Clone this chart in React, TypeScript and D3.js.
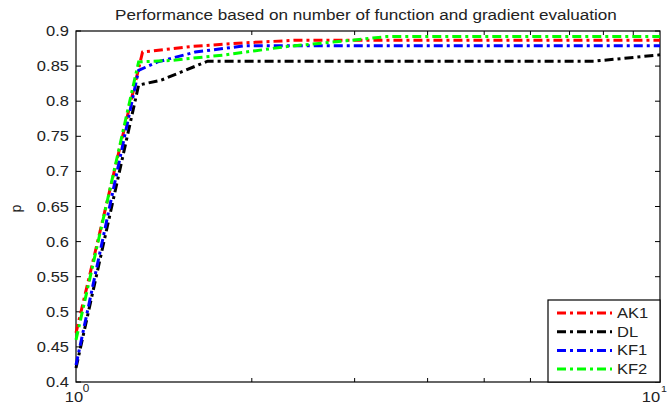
import React from 'react';
import * as d3 from 'd3';

// performance profile curves (x = tau, log scale)
const AK1_X = [1, 1.3, 1.58, 1.93, 2.4, 10];
const AK1_Y = [0.47, 0.87, 0.878, 0.883, 0.887, 0.887];
const DL_X = [1, 1.28, 1.4, 1.68, 7.7, 10];
const DL_Y = [0.42, 0.823, 0.83, 0.857, 0.857, 0.866];
const KF1_X = [1, 1.28, 1.38, 1.6, 1.95, 10];
const KF1_Y = [0.424, 0.844, 0.856, 0.87, 0.879, 0.879];
const KF2_X = [1, 1.28, 1.45, 1.8, 2.3, 2.9, 3.4, 10];
const KF2_Y = [0.46, 0.856, 0.858, 0.866, 0.878, 0.886, 0.892, 0.892];

const SERIES = [
  { name: 'AK1', color: '#ff0000', xs: AK1_X, ys: AK1_Y },
  { name: 'DL', color: '#000000', xs: DL_X, ys: DL_Y },
  { name: 'KF1', color: '#0000ff', xs: KF1_X, ys: KF1_Y },
  { name: 'KF2', color: '#00ff00', xs: KF2_X, ys: KF2_Y }
];

const Y_TICKS = [0.4, 0.45, 0.5, 0.55, 0.6, 0.65, 0.7, 0.75, 0.8, 0.85, 0.9];
const X_MINOR = [2, 3, 4, 5, 6, 7, 8, 9];
const TITLE = 'Performance based on number of function and gradient evaluation';

const W = 668, H = 407;
const margin = { top: 31, right: 8, bottom: 25, left: 76 };
const FONT = '"Liberation Sans", Arial, sans-serif';
const SX = 1.18; // the picture is stretched sideways

const Txt = ({ x, y, anchor, size, children }: any) => (
  <text transform={`translate(${x},${y}) scale(${SX},1)`} textAnchor={anchor}
    fontSize={size} fontFamily={FONT} fill='#222'>{children}</text>
);

export default function App () {
  const x = d3.scaleLog().domain([1, 10]).range([margin.left, W - margin.right]);
  const y = d3.scaleLinear().domain([0.4, 0.9]).range([H - margin.bottom, margin.top]);
  const line = d3.line<[number, number]>().x(d => x(d[0])).y(d => y(d[1]));
  const x0 = x(1), x1 = x(10), y0 = y(0.4), y1 = y(0.9);
  const dash = '9,4,3,4';

  const lx = 548, ly = 300, lw = x1 - 548, lh = y0 - 300;

  return (
    <svg width={W} height={H} style={{ position: 'absolute', left: 0, top: 0, background: '#fff' }}>
      <rect width={W} height={H} fill='#fff' />
      {/* title */}
      <Txt x={366} y={20} anchor='middle' size={14.5}>{TITLE}</Txt>

      {/* axes box */}
      <rect x={x0} y={y1} width={x1 - x0} height={y0 - y1} fill='none' stroke='#000' strokeWidth={1.2} />
      {Y_TICKS.map(t => (
        <g key={t}>
          <line x1={x0} x2={x0 + 5} y1={y(t)} y2={y(t)} stroke='#000' />
          <line x1={x1} x2={x1 - 5} y1={y(t)} y2={y(t)} stroke='#000' />
          <Txt x={69} y={y(t) + 5} anchor='end' size={14}>{String(t)}</Txt>
        </g>
      ))}
      {X_MINOR.map(t => (
        <g key={t}>
          <line x1={x(t)} x2={x(t)} y1={y0} y2={y0 - 4} stroke='#000' />
          <line x1={x(t)} x2={x(t)} y1={y1} y2={y1 + 4} stroke='#000' />
        </g>
      ))}
      <Txt x={x0 - 2} y={402} anchor='middle' size={14}>10</Txt>
      <Txt x={x0 + 10} y={392} anchor='middle' size={10}>0</Txt>
      <Txt x={x1 - 9} y={402} anchor='middle' size={14}>10</Txt>
      <Txt x={x1 + 1} y={392} anchor='start' size={9}>1</Txt>

      {/* y label */}
      <text transform={`translate(21,${y(0.65) + 2}) rotate(-90)`} textAnchor='middle'
        fontSize={14} fontFamily={FONT} fill='#222'>p</text>

      {/* curves */}
      <g>
        {SERIES.map(s => (
          <path key={s.name} d={line(s.xs.map((v, i) => [v, s.ys[i]]) as [number, number][]) || ''}
            fill='none' stroke={s.color} strokeWidth={3} strokeDasharray={dash} />
        ))}
      </g>

      {/* legend */}
      <rect x={lx} y={ly} width={lw} height={lh} fill='#fff' stroke='#000' strokeWidth={1.2} />
      {SERIES.map((s, i) => (
        <g key={s.name}>
          <line x1={557} x2={612} y1={313 + i * 18.7} y2={313 + i * 18.7} stroke={s.color}
            strokeWidth={3} strokeDasharray={dash} />
          <Txt x={617} y={318 + i * 18.7} anchor='start' size={14}>{s.name}</Txt>
        </g>
      ))}
    </svg>
  );
}
